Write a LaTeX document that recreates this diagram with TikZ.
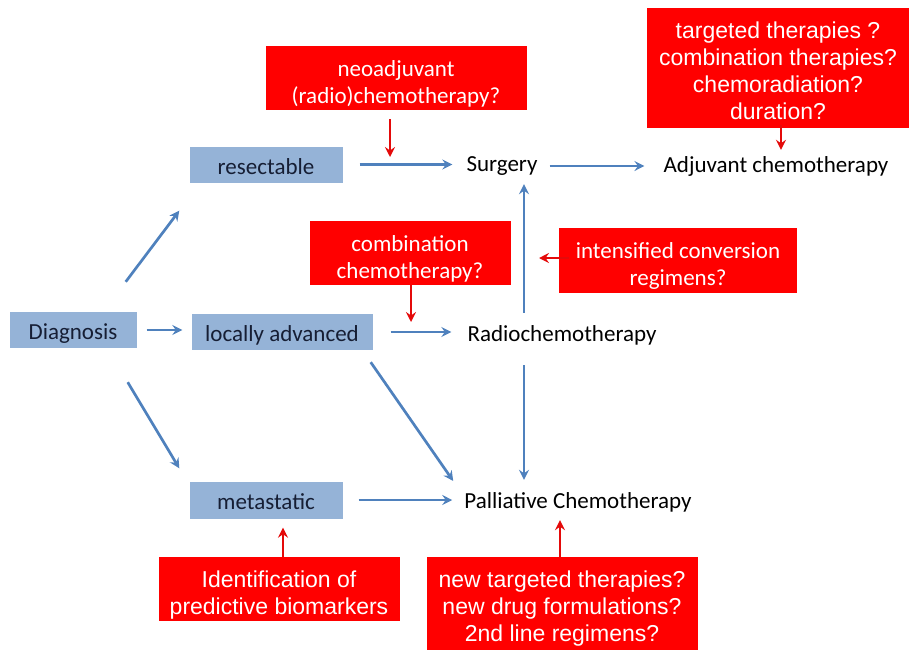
\documentclass[tikz,border=0pt]{standalone}
\usepackage{fontspec}
\setmainfont{Carlito}
\newfontfamily\arialf{Liberation Sans}
\usetikzlibrary{arrows.meta}
\definecolor{boxblue}{RGB}{149,179,215}
\definecolor{arrblue}{RGB}{79,129,189}
\definecolor{boxred}{RGB}{255,0,0}
\definecolor{arrred}{RGB}{228,10,10}
\definecolor{navytext}{RGB}{22,30,52}
\tikzset{
  bluebox/.style={fill=boxblue, text=navytext, inner sep=0pt, text height=20pt, text depth=1pt, font=\fontsize{23}{27}\selectfont},
  label/.style={inner sep=0pt, text height=16pt, text depth=5pt, font=\fontsize{23}{27}\selectfont},
  redbox/.style={fill=boxred, text=white, inner sep=0pt, align=center, text depth=0pt, font=\fontsize{23}{27}\selectfont},
  redboxa/.style={redbox, font=\arialf\fontsize{23}{27}\selectfont},
  barrow/.style={draw=arrblue, line width=2.7pt, -{Stealth[length=10pt,width=10pt,inset=3.5pt]}},
  rarrow/.style={draw=arrred, line width=2.4pt, -{Stealth[length=10pt,width=10pt,inset=3.5pt]}}
}
\begin{document}
\begin{tikzpicture}[x=1pt,y=-1pt]
\useasboundingbox (0,0) rectangle (912,651);
% blue boxes
\node[bluebox, minimum width=127pt, minimum height=36pt] (diag) at (73,330) {Diagnosis};
\node[bluebox, minimum width=153pt, minimum height=36pt] (resect) at (266,164.5) {resectable};
\node[bluebox, minimum width=181pt, minimum height=36pt] (local) at (282,332) {locally advanced};
\node[bluebox, minimum width=153pt, minimum height=37pt] (meta) at (266,500) {metastatic};
% labels
\node[label] (surgery) at (502,166) {Surgery};
\node[label] (adjuv) at (776,167) {Adjuvant chemotherapy};
\node[label] (radio) at (562,336) {Radiochemotherapy};
\node[label] (pall) at (578,503) {Palliative Chemotherapy};
% red boxes
\node[redbox, minimum width=261pt, minimum height=64pt, text height=50pt] (neo) at (396,78) {neoadjuvant\\(radio)chemotherapy?};
\node[redboxa, minimum width=262pt, minimum height=120pt, text height=103pt] (targ) at (778,68) {targeted therapies ?\\combination therapies?\\chemoradiation?\\duration?};
\node[redbox, minimum width=201pt, minimum height=64pt, text height=50pt] (comb) at (410,253) {combination\\chemotherapy?};
\node[redbox, minimum width=238pt, minimum height=65pt, text height=50pt] (intens) at (678,260) {intensified conversion\\regimens?};
\node[redboxa, minimum width=241pt, minimum height=64pt, text height=50pt] (ident) at (279,589) {Identification of\\predictive biomarkers};
\node[redboxa, minimum width=271pt, minimum height=93pt, text height=76pt] (newt) at (562,603.5) {new targeted therapies?\\new drug formulations?\\2nd line regimens?};
% free ends
\coordinate (neoT) at (390,157);
\coordinate (combT) at (411,322);
\coordinate (intT) at (539,258);
% blue arrows
\draw[barrow] ([xshift=-11pt,yshift=30pt]diag.north east) -- ([xshift=-10pt,yshift=-28pt]resect.south west);
\draw[barrow, shorten <=10pt, shorten >=9pt] (diag.east) -- (diag.east -| local.west);
\draw[barrow] ([xshift=-9pt,yshift=-34pt]diag.south east) -- ([xshift=-10pt,yshift=13pt]meta.north west);
\draw[barrow, shorten <=17pt, shorten >=14pt] (resect.east) -- (resect.east -| surgery.west);
\draw[barrow, shorten <=12pt, shorten >=19pt] (surgery.east) -- (surgery.east -| adjuv.west);
\draw[barrow, shorten <=18pt, shorten >=16pt] (local.east) -- (local.east -| radio.west);
\draw[barrow] ([xshift=-2pt,yshift=-12pt]local.south east) -- ([xshift=-11pt,yshift=22pt]pall.west);
\draw[barrow, shorten <=16pt, shorten >=12pt] (meta.east) -- (meta.east -| pall.west);
\draw[barrow] ([xshift=-38pt,yshift=12.5pt]radio.north) -- ([xshift=22pt,yshift=-7.5pt]surgery.south);
\draw[barrow] ([xshift=-38pt,yshift=-18.5pt]radio.south) -- ([xshift=-54pt,yshift=12.5pt]pall.north);
% red arrows
\draw[rarrow] ([xshift=-6pt,yshift=-9pt]neo.south) -- (neoT);
\draw[rarrow] ([xshift=1pt]comb.south) -- (combT);
\draw[rarrow] ([xshift=3pt,yshift=3pt]targ.south) -- ([xshift=5pt,yshift=6.5pt]adjuv.north);
\draw[rarrow] ([xshift=10pt,yshift=2pt]intens.west) -- (intT);
\draw[rarrow] ([xshift=4pt]ident.north) -- ([xshift=17pt,yshift=-9pt]meta.south);
\draw[rarrow] ([xshift=-2pt]newt.north) -- ([xshift=-18pt,yshift=-6.5pt]pall.south);
\end{tikzpicture}
\end{document}
